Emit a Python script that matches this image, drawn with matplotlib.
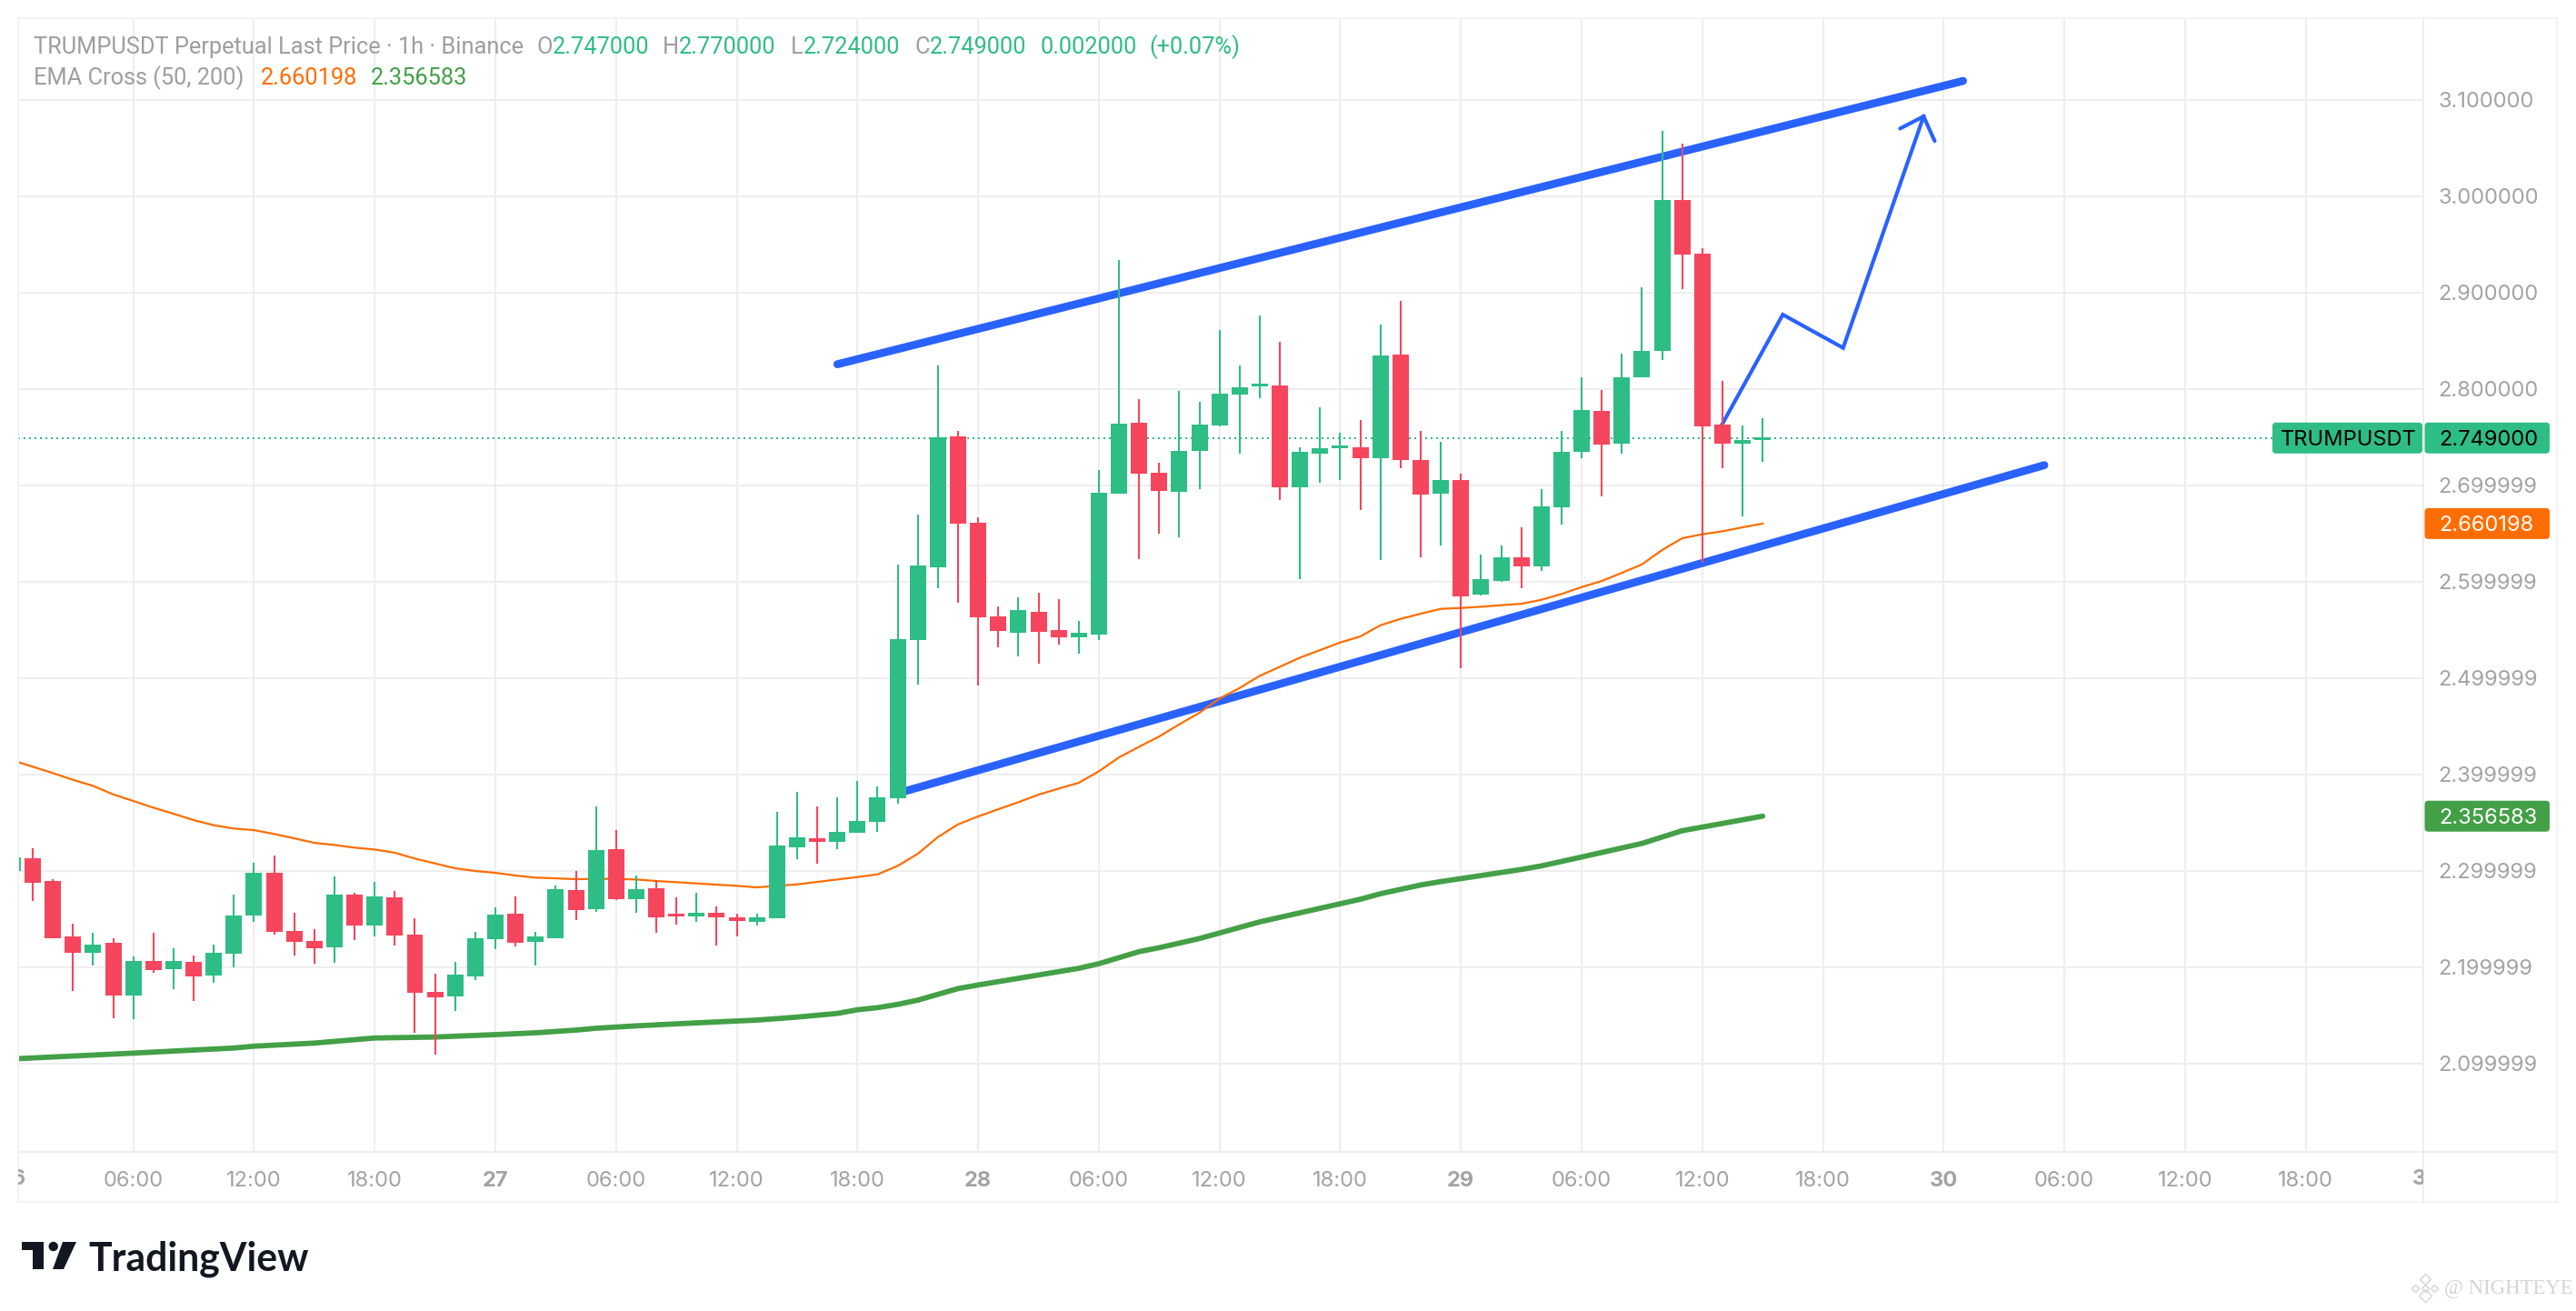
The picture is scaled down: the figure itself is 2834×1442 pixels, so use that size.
import matplotlib
matplotlib.use("Agg")
import matplotlib.pyplot as plt
from matplotlib.lines import Line2D
from matplotlib.patches import FancyBboxPatch, Polygon, Circle
from matplotlib.transforms import IdentityTransform, Bbox, blended_transform_factory

W, H = 2834, 1442
PRICE_FONT = "Inter"
TEXT_FONT = "Roboto"

opens = [2.2997, 2.3129, 2.2893, 2.2318, 2.2148, 2.2252, 2.1704, 2.2063, 2.1978, 2.2053, 2.1912, 2.2138,
         2.2535, 2.2978, 2.2374, 2.2270, 2.2204, 2.2752, 2.2431, 2.2723, 2.2336, 2.1742, 2.1695, 2.1903,
         2.2289, 2.2553, 2.2261, 2.2299, 2.2799, 2.2601, 2.3223, 2.2704, 2.2818, 2.2544, 2.2525, 2.2563,
         2.2516, 2.2469, 2.2506, 2.3242, 2.3336, 2.3299, 2.3393, 2.3509, 2.3755, 2.5393, 2.6148, 2.7506,
         2.6610, 2.5638, 2.5469, 2.5686, 2.5497, 2.5421, 2.5450, 2.6912, 2.7648, 2.7129, 2.6931, 2.7355,
         2.7620, 2.7940, 2.8028, 2.8035, 2.6978, 2.7327, 2.7384, 2.7393, 2.7280, 2.8355, 2.7261, 2.6912,
         2.7053, 2.5865, 2.6006, 2.6252, 2.6157, 2.6770, 2.7346, 2.7770, 2.7431, 2.8120, 2.8393, 2.9959,
         2.9403, 2.7629, 2.7431, 2.747]
highs = [2.3180, 2.3233, 2.2912, 2.2450, 2.2355, 2.2299, 2.2110, 2.2355, 2.2195, 2.2119, 2.2233, 2.2752,
         2.3082, 2.3157, 2.2563, 2.2393, 2.2940, 2.2770, 2.2884, 2.2789, 2.2506, 2.1931, 2.2053, 2.2365,
         2.2619, 2.2733, 2.2365, 2.2846, 2.2997, 2.3667, 2.3421, 2.2950, 2.2903, 2.2723, 2.2770, 2.2629,
         2.2553, 2.2553, 2.3610, 2.3818, 2.3667, 2.3761, 2.3931, 2.3877, 2.6176, 2.6695, 2.8242, 2.7563,
         2.6667, 2.5742, 2.5836, 2.5884, 2.5818, 2.5591, 2.7157, 2.9336, 2.7893, 2.7233, 2.7978, 2.7865,
         2.8610, 2.8242, 2.8761, 2.8487, 2.7393, 2.7808, 2.7544, 2.7676, 2.8667, 2.8912, 2.7563, 2.7450,
         2.7119, 2.6280, 2.6374, 2.6563, 2.6959, 2.7563, 2.8120, 2.7987, 2.8365, 2.9053, 3.0676, 3.0544,
         2.9459, 2.8082, 2.7620, 2.770]
lows = [2.2950, 2.2689, 2.2299, 2.1752, 2.2016, 2.1469, 2.1459, 2.1940, 2.1770, 2.1648, 2.1836, 2.1997,
        2.2469, 2.2336, 2.2119, 2.2035, 2.2044, 2.2280, 2.2318, 2.2223, 2.1318, 2.1091, 2.1544, 2.1865,
        2.2186, 2.2214, 2.2016, 2.2299, 2.2487, 2.2572, 2.2695, 2.2563, 2.2355, 2.2440, 2.2469, 2.2223,
        2.2318, 2.2431, 2.2506, 2.3119, 2.3072, 2.3223, 2.3393, 2.3406, 2.3698, 2.4931, 2.5931, 2.5780,
        2.4921, 2.5318, 2.5223, 2.5148, 2.5346, 2.5252, 2.5393, 2.6912, 2.6233, 2.6497, 2.6459, 2.6959,
        2.7610, 2.7327, 2.7903, 2.6846, 2.6025, 2.7025, 2.7053, 2.6742, 2.6223, 2.7176, 2.6252, 2.6374,
        2.5101, 2.5855, 2.5997, 2.5931, 2.6110, 2.6591, 2.7280, 2.6884, 2.7327, 2.8120, 2.8299, 2.9038,
        2.6195, 2.7176, 2.6676, 2.724]
closes = [2.3138, 2.2877, 2.2299, 2.2148, 2.2233, 2.1704, 2.2063, 2.1969, 2.2063, 2.1903, 2.2148, 2.2535,
          2.2978, 2.2365, 2.2261, 2.2195, 2.2752, 2.2431, 2.2733, 2.2327, 2.1733, 2.1686, 2.1921, 2.2299,
          2.2544, 2.2252, 2.2318, 2.2808, 2.2591, 2.3214, 2.2704, 2.2808, 2.2516, 2.2525, 2.2563, 2.2516,
          2.2478, 2.2516, 2.3261, 2.3346, 2.3299, 2.3403, 2.3516, 2.3764, 2.5403, 2.6167, 2.7497, 2.6601,
          2.5629, 2.5487, 2.5704, 2.5478, 2.5421, 2.5469, 2.6921, 2.7638, 2.7119, 2.6940, 2.7355, 2.7629,
          2.7950, 2.8016, 2.8044, 2.6978, 2.7346, 2.7384, 2.7403, 2.7280, 2.8346, 2.7261, 2.6903, 2.7053,
          2.5846, 2.6025, 2.6252, 2.6157, 2.6780, 2.7346, 2.7780, 2.7421, 2.8120, 2.8393, 2.9959, 2.9396,
          2.7610, 2.7431, 2.7469, 2.749]

ema50 = [2.4145, 2.4079, 2.4013, 2.3943, 2.3880, 2.3792, 2.3723, 2.3654, 2.3591, 2.3525, 2.3472, 2.3437,
         2.3421, 2.3381, 2.3336, 2.3289, 2.3267, 2.3239, 2.3220, 2.3186, 2.3126, 2.3075, 2.3025, 2.2997,
         2.2978, 2.2950, 2.2928, 2.2921, 2.2912, 2.2915, 2.2915, 2.2909, 2.2893, 2.2881, 2.2868, 2.2855,
         2.2843, 2.2827, 2.2843, 2.2858, 2.2884, 2.2909, 2.2934, 2.2962, 2.3050, 2.3176, 2.3349, 2.3481,
         2.3563, 2.3638, 2.3711, 2.3789, 2.3852, 2.3912, 2.4031, 2.4176, 2.4286, 2.4393, 2.4519, 2.4639,
         2.4786, 2.4896, 2.5022, 2.5116, 2.5211, 2.5289, 2.5368, 2.5431, 2.5547, 2.5613, 2.5667, 2.5717,
         2.5726, 2.5739, 2.5755, 2.5770, 2.5811, 2.5871, 2.5943, 2.6006, 2.6091, 2.6179, 2.6327, 2.6450,
         2.6491, 2.6522, 2.6563, 2.660198]
ema200_hours = [0, 6, 11, 12, 15, 18, 21, 24, 26, 28, 29, 31, 34, 37, 38, 39, 41, 42, 43, 44, 45, 47, 48,
                53, 54, 56, 57, 59, 62, 65, 67, 68, 70, 71, 72, 75, 76, 78, 80, 81, 83, 87]
ema200 = [2.1047, 2.1107, 2.1160, 2.1179, 2.1211, 2.1264, 2.1274, 2.1299, 2.1318, 2.1346, 2.1365, 2.1390,
          2.1421, 2.1450, 2.1465, 2.1481, 2.1519, 2.1557, 2.1579, 2.1613, 2.1657, 2.1777, 2.1814, 2.1987,
          2.2035, 2.2160, 2.2201, 2.2296, 2.2469, 2.2610, 2.2704, 2.2761, 2.2852, 2.2887, 2.2918, 2.3013,
          2.3050, 2.3142, 2.3236, 2.3283, 2.3415, 2.356583]

upper_hours, upper_prices = [41.0, 96.96], [2.8255, 3.1195]
lower_hours, lower_prices = [44.0, 101.0], [2.3803, 2.7208]
path_hours, path_prices = [84.9, 88.0, 91.0, 95.0], [2.760, 2.877, 2.8425, 3.0827]
head_hours, head_prices = [93.83, 95.0, 95.55], [3.0701, 3.0827, 3.0572]

last_price, ema50_last, ema200_last = 2.749, 2.660198, 2.356583

y_ticks = [2.1, 2.2, 2.3, 2.4, 2.5, 2.6, 2.7, 2.8, 2.9, 3.0, 3.1]
y_labels = ["2.099999", "2.199999", "2.299999", "2.399999", "2.499999", "2.599999", "2.699999",
            "2.800000", "2.900000", "3.000000", "3.100000"]
x_ticks = [6, 12, 18, 24, 30, 36, 42, 48, 54, 60, 66, 72, 78, 84, 90, 96, 102, 108, 114]
x_labels = ["06:00", "12:00", "18:00", "27", "06:00", "12:00", "18:00", "28", "06:00", "12:00", "18:00",
            "29", "06:00", "12:00", "18:00", "30", "06:00", "12:00", "18:00"]

GREEN, RED, ORANGE, DGREEN, BLUE = "#2EBD85", "#F6465D", "#FF6D00", "#43A047", "#2962FF"
GRID, GREY = "#EEEEEE", "#A3A3A3"

fig = plt.figure(figsize=(W / 100, H / 100), dpi=100, facecolor="white")
L, R, T, B = 20, 2666, 20, 1267
ax = fig.add_axes([L / W, 1 - B / H, (R - L) / W, (B - T) / H])
ax.set_xlim((L - 13.9) / 22.13, (R - 13.9) / 22.13)
ax.set_ylim(2.9 - (B - 321.7) / 1060, 2.9 + (321.7 - T) / 1060)
for s in ax.spines.values():
    s.set_visible(False)
ax.grid(True, color=GRID, lw=1.5, zorder=0)
ax.set_axisbelow(True)

ax.yaxis.tick_right()
ax.set_yticks(y_ticks)
ax.set_yticklabels(y_labels, fontfamily=PRICE_FONT, fontsize=17, color=GREY, va="center_baseline")
ax.tick_params(axis="y", length=0, pad=12)
ax.set_xticks(x_ticks)
ax.set_xticklabels(x_labels, fontfamily=PRICE_FONT, fontsize=17, color=GREY)
ax.tick_params(axis="x", length=0, pad=15)
for lab in ax.get_xticklabels():
    if lab.get_text().isdigit():
        lab.set_fontweight("bold")

hours = list(range(len(closes)))
ax.plot([ax.get_xlim()[0], (2500 - 13.9) / 22.13], [last_price, last_price], color=GREEN, lw=1.44,
        linestyle=(0, (1, 2)), dash_capstyle="butt", zorder=1)
for hs, ps in ((upper_hours, upper_prices), (lower_hours, lower_prices)):
    ax.plot(hs, ps, color=BLUE, lw=6.3, solid_capstyle="round", zorder=2)
ax.plot(path_hours, path_prices, color=BLUE, lw=3.0, solid_joinstyle="miter", zorder=2)
ax.plot(head_hours, head_prices, color=BLUE, lw=3.0, solid_capstyle="round", solid_joinstyle="miter", zorder=2)
ax.plot(hours, ema50, color=ORANGE, lw=1.6, zorder=3)
ax.plot(ema200_hours, ema200, color=DGREEN, lw=4.2, solid_capstyle="round", zorder=3)

min_h = 3.0 / 1060
for h, o, hi, lo, c in zip(hours, opens, highs, lows, closes):
    col = GREEN if c >= o else RED
    ax.vlines(h, lo, hi, color=col, lw=1.5, zorder=4)
    b = min(o, c)
    ax.bar(h, max(abs(c - o), min_h), bottom=b, width=18 / 22.13, color=col, lw=0, zorder=5)

I = IdentityTransform()
def Y(y):
    return H - y

def hline(x0, x1, y, c=GRID, lw=1.5):
    fig.add_artist(Line2D([x0, x1], [Y(y), Y(y)], color=c, lw=lw, transform=I))

def vline(x, y0, y1, c=GRID, lw=1.5):
    fig.add_artist(Line2D([x, x], [Y(y0), Y(y1)], color=c, lw=lw, transform=I))

hline(L, 2813, T, "#F3F3F3")
hline(L, 2813, B)
hline(L, 2813, 1322, "#F3F3F3")
vline(L, T, 1322, "#F3F3F3")
vline(R, T, 1322)
vline(2813, T, 1322, "#F3F3F3")

# clipped date labels at both ends of the time axis
clip = Bbox([[L, Y(1322)], [R, Y(B)]])
bt = blended_transform_factory(ax.transData, I)
for hv, s in ((0, "26"), (120, "30")):
    t = fig.text(hv, Y(1297), s, transform=bt, ha="center", va="center", fontfamily=PRICE_FONT,
                 fontsize=17, fontweight="bold", color=GREY)
    t.set_clip_on(True)
    t.set_clip_box(clip)

def badge(x0, x1, price, col, txtcol, label, tx):
    yc = ax.transData.transform((0, price))[1]
    fig.add_artist(FancyBboxPatch((x0, yc - 17), x1 - x0, 34, boxstyle="round,pad=0,rounding_size=4",
                                  facecolor=col, edgecolor="none", transform=I))
    t = fig.text(tx, yc, label, transform=I, ha="left", va="center_baseline", fontfamily=PRICE_FONT,
                 fontsize=17, color=txtcol)
    return t

badge(2500, 2665, last_price, GREEN, "#000000", "TRUMPUSDT", 2509)
badge(2667.5, 2805, last_price, GREEN, "#000000", f"{last_price:.6f}", 2683)
badge(2667.5, 2805, ema50_last, ORANGE, "#FFFFFF", f"{ema50_last:.6f}", 2683)
badge(2667.5, 2805, ema200_last, DGREEN, "#FFFFFF", f"{ema200_last:.6f}", 2683)

HEAD_SIZE = 18.3
def head(x, y, s, c):
    fig.text(x, Y(y), s, transform=I, ha="left", va="center", fontfamily=TEXT_FONT, fontsize=HEAD_SIZE, color=c)

HG = "#9E9E9E"
head(37, 52, "TRUMPUSDT Perpetual Last Price · 1h · Binance", HG)
for x, off, lab, val in ((590, 18, "O", "2.747000"), (729, 18, "H", "2.770000"),
                         (870, 14, "L", "2.724000"), (1006, 17, "C", "2.749000")):
    head(x, 52, lab, HG)
    head(x + off, 52, val, GREEN)
head(1145, 52, "0.002000", GREEN)
head(1264, 52, "(+0.07%)", GREEN)
head(37, 86, "EMA Cross (50, 200)", HG)
head(287, 86, "2.660198", ORANGE)
head(408, 86, "2.356583", DGREEN)

# TradingView wordmark
K = "#131722"
fig.add_artist(Polygon([(24, Y(1366)), (47.5, Y(1366)), (47.5, Y(1396)), (36, Y(1396)), (36, Y(1375)), (24, Y(1375))],
                       closed=True, fc=K, ec="none", transform=I))
fig.add_artist(Circle((58.7, Y(1371)), 5.2, fc=K, ec="none", transform=I))
fig.add_artist(Polygon([(69, Y(1366)), (84, Y(1366)), (70, Y(1396)), (58, Y(1396))],
                       closed=True, fc=K, ec="none", transform=I))
fig.text(97, Y(1385), "TradingView", transform=I, ha="left", va="center", fontfamily="Lato", fontweight="bold",
         fontsize=30.8, color=K)

# watermark
WM = "#D4D4D4"
for x, y, ms in ((2667.5, 1407, 6), (2657, 1416.5, 4), (2678, 1416.5, 4), (2667.5, 1416.5, 4), (2667.5, 1425, 7)):
    fig.add_artist(Line2D([x], [Y(y)], marker="D", ms=ms, mfc="none", mec=WM, mew=1, transform=I))
fig.text(2831, Y(1417), "@ NIGHTEYE", transform=I, ha="right", va="center", fontfamily="Liberation Serif",
         fontsize=16.4, color=WM)

fig.savefig("out.png", dpi=100, facecolor="white")
